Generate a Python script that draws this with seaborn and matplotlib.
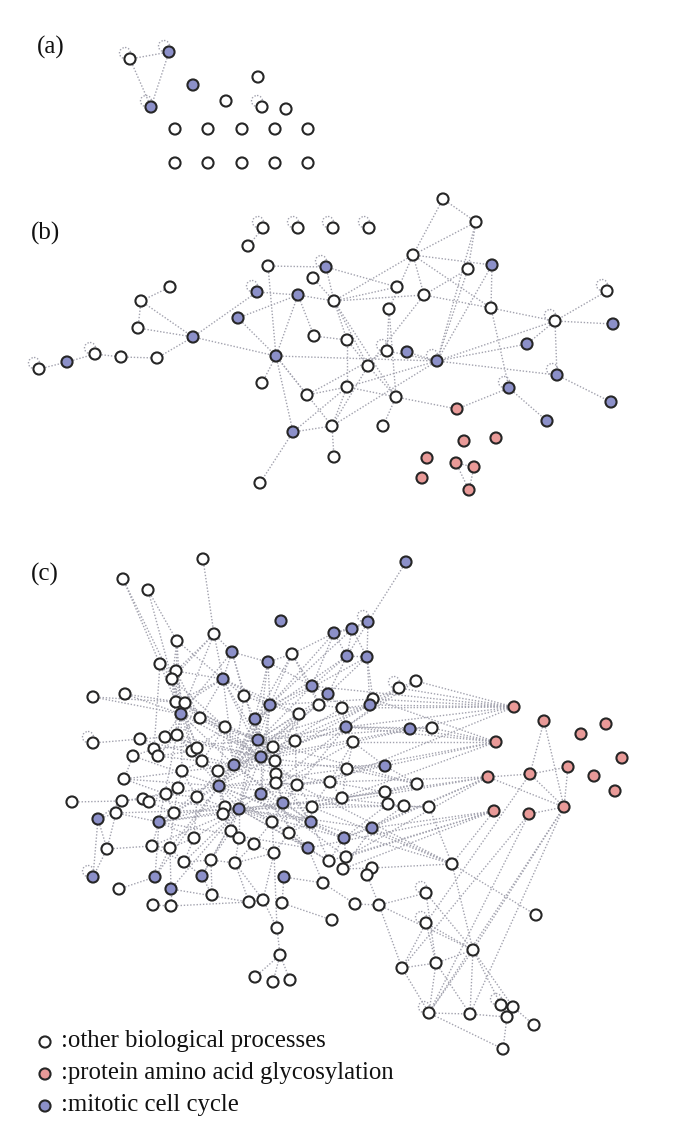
import matplotlib
matplotlib.use("Agg")
import matplotlib.pyplot as plt
import seaborn as sns
import pandas as pd
from matplotlib.collections import LineCollection
from matplotlib.patches import Circle

sns.set_theme(style="white")
plt.rcParams["font.family"] = ["Liberation Serif", "DejaVu Serif"]

# ---------------- data ----------------
# category codes: w = other biological processes, r = glycosylation, b = mitotic cell cycle
categories = ["w", "r", "b"]
legend_labels = [":other biological processes",
                 ":protein amino acid glycosylation",
                 ":mitotic cell cycle"]
panel_labels = ["(a)", "(b)", "(c)"]

# panel (a)
a_x = [130, 169, 193, 151, 258, 226, 262, 286,
       175, 208, 242, 275, 308, 175, 208, 242, 275, 308]
a_y = [59, 52, 85, 107, 77, 101, 107, 109,
       129, 129, 129, 129, 129, 163, 163, 163, 163, 163]
a_cat = ["w", "b", "b", "b", "w", "w", "w", "w",
         "w", "w", "w", "w", "w", "w", "w", "w", "w", "w"]
a_edges = [(0, 1), (0, 3), (1, 3)]
a_loops = [0, 1, 3, 6]

# panel (b)
b_x = [263, 298, 333, 369, 248, 268, 326, 313, 170, 141,
       257, 298, 334, 238, 138, 193, 314, 276, 39, 67,
       95, 121, 157, 262, 307, 293, 332, 334, 260, 443,
       476, 413, 468, 492, 397, 424, 389, 491, 607, 555,
       613, 527, 347, 387, 407, 437, 368, 557, 347, 396,
       509, 457, 547, 611, 383, 464, 496, 427, 456, 474,
       422, 469]
b_y = [228, 228, 228, 228, 246, 266, 267, 278, 287, 301,
       292, 295, 301, 318, 328, 337, 336, 356, 369, 362,
       354, 357, 358, 383, 395, 432, 426, 457, 483, 199,
       222, 255, 269, 265, 287, 295, 309, 308, 291, 321,
       324, 344, 340, 351, 352, 361, 366, 375, 387, 397,
       388, 409, 421, 402, 426, 441, 438, 458, 463, 467,
       478, 490]
b_cat = ["w", "w", "w", "w", "w", "w", "b", "w", "w", "w",
         "b", "b", "w", "b", "w", "b", "w", "b", "w", "b",
         "w", "w", "w", "w", "w", "b", "w", "w", "w", "w",
         "w", "w", "w", "b", "w", "w", "w", "w", "w", "w",
         "b", "b", "w", "w", "b", "b", "w", "b", "w", "w",
         "b", "r", "b", "b", "w", "r", "r", "r", "r", "r",
         "r", "r"]
b_edges = [(18, 19), (19, 20), (20, 21), (21, 22), (22, 15), (8, 9), (9, 14), (14, 15),
           (9, 15), (15, 10), (15, 17), (0, 4), (5, 6), (5, 17), (10, 11), (13, 11),
           (13, 17), (11, 12), (11, 17), (11, 16), (6, 12), (7, 12), (17, 23), (17, 24),
           (17, 25), (17, 45), (17, 26), (25, 26), (25, 28), (25, 48), (26, 27), (24, 43),
           (24, 48), (29, 30), (29, 31), (30, 31), (30, 32), (30, 45), (31, 12), (31, 33),
           (31, 35), (31, 37), (31, 36), (6, 34), (32, 35), (32, 45), (33, 37), (33, 45),
           (12, 35), (12, 42), (12, 49), (12, 46), (35, 37), (35, 46), (36, 43), (36, 49),
           (37, 39), (37, 50), (38, 39), (39, 40), (39, 47), (39, 45), (39, 41), (41, 45),
           (45, 47), (45, 26), (45, 48), (45, 44), (47, 53), (50, 52), (50, 51), (51, 49),
           (49, 48), (49, 54), (49, 46), (46, 42), (46, 26), (42, 48), (48, 26), (43, 45),
           (58, 59), (58, 61), (59, 61), (12, 34), (16, 42)]
b_loops = [0, 1, 2, 3, 6, 10, 18, 20, 38, 39, 43, 45, 47, 50]

# panel (c)
c_x = [203, 123, 148, 406, 281, 214, 177, 232, 268, 160,
       176, 172, 223, 334, 352, 368, 292, 347, 367, 416,
       399, 312, 328, 93, 125, 244, 176, 185, 270, 319,
       342, 373, 370, 181, 200, 255, 299, 225, 346, 410,
       432, 93, 140, 165, 177, 258, 295, 353, 273, 154,
       158, 133, 192, 197, 202, 261, 275, 234, 182, 218,
       276, 276, 297, 330, 347, 124, 219, 178, 166, 197,
       261, 342, 72, 122, 143, 149, 283, 225, 223, 239,
       312, 98, 116, 174, 159, 272, 311, 231, 239, 289,
       344, 194, 107, 152, 170, 254, 308, 274, 329, 346,
       184, 211, 235, 93, 155, 202, 171, 119, 212, 153,
       171, 249, 263, 277, 385, 417, 385, 388, 404, 429,
       372, 343, 372, 367, 452, 284, 323, 282, 355, 379,
       426, 332, 426, 536, 473, 402, 436, 429, 470, 501,
       513, 507, 534, 503, 280, 255, 273, 290,
       514, 544, 606, 581, 496, 622, 488, 530, 568, 594,
       615, 494, 529, 564]
c_y = [559, 579, 590, 562, 621, 634, 641, 652, 662, 664,
       671, 679, 679, 633, 629, 622, 654, 656, 657, 681,
       688, 686, 694, 697, 694, 696, 702, 703, 705, 705,
       708, 699, 705, 714, 718, 719, 714, 727, 727, 729,
       728, 743, 739, 737, 735, 740, 741, 742, 747, 749,
       756, 756, 751, 748, 761, 757, 761, 765, 771, 771,
       774, 783, 785, 782, 769, 779, 786, 788, 794, 797,
       794, 798, 802, 801, 799, 802, 803, 807, 814, 809,
       807, 819, 813, 813, 822, 822, 822, 831, 838, 833,
       838, 838, 849, 846, 848, 844, 848, 853, 861, 857,
       862, 860, 863, 877, 877, 876, 889, 889, 895, 905,
       906, 902, 900, 928, 766, 784, 792, 804, 806, 807,
       828, 869, 868, 875, 864, 877, 883, 903, 904, 905,
       893, 920, 923, 915, 950, 968, 963, 1013, 1014, 1005,
       1007, 1017, 1025, 1049, 955, 977, 982, 980,
       707, 721, 724, 734, 742, 758, 777, 774, 767, 776,
       791, 811, 814, 807]
c_cat = ["w", "w", "w", "b", "b", "w", "w", "b", "b", "w",
         "w", "w", "b", "b", "b", "b", "w", "b", "b", "w",
         "w", "b", "b", "w", "w", "w", "w", "w", "b", "w",
         "w", "w", "b", "b", "w", "b", "w", "w", "b", "b",
         "w", "w", "w", "w", "w", "b", "w", "w", "w", "w",
         "w", "w", "w", "w", "w", "b", "w", "b", "w", "w",
         "w", "w", "w", "w", "w", "w", "b", "w", "w", "w",
         "b", "w", "w", "w", "w", "w", "b", "w", "w", "b",
         "w", "b", "w", "w", "b", "w", "b", "w", "w", "w",
         "b", "w", "w", "w", "w", "w", "b", "w", "w", "w",
         "w", "w", "w", "b", "b", "b", "b", "w", "w", "w",
         "w", "w", "w", "w", "b", "w", "w", "w", "w", "w",
         "b", "w", "w", "w", "w", "b", "w", "w", "w", "w",
         "w", "w", "w", "w", "w", "w", "w", "w", "w", "w",
         "w", "w", "w", "w", "w", "w", "w", "w",
         "r", "r", "r", "r", "r", "r", "r", "r", "r", "r",
         "r", "r", "r", "r"]
c_edges = [
    (0, 5), (1, 9), (1, 11), (2, 6), (2, 11), (3, 15),
    (5, 7), (5, 10), (5, 11), (5, 12), (6, 11), (6, 12), (6, 26),
    (7, 8), (7, 12), (7, 25), (8, 16), (8, 28), (8, 21),
    (9, 11), (10, 11), (11, 26), (11, 33),
    (12, 25), (12, 27), (12, 26), (12, 28),
    (13, 14), (13, 15), (13, 17), (13, 21), (14, 15), (14, 17), (14, 18), (15, 18), (15, 17),
    (16, 21), (16, 29), (16, 13),
    (17, 18), (17, 22), (17, 21), (18, 31), (18, 32), (18, 22),
    (19, 20), (20, 31), (20, 32),
    (21, 22), (21, 29), (21, 28), (22, 29), (22, 30),
    (23, 26), (24, 27),
    (25, 28), (25, 35), (27, 33), (26, 27), (27, 34),
    (28, 35), (28, 36), (28, 45), (28, 55),
    (29, 30), (29, 36), (30, 32), (30, 38), (31, 32),
    (33, 34), (33, 44), (34, 37), (34, 12),
    (35, 45), (35, 55), (36, 46), (37, 57), (37, 45),
    (38, 47), (38, 39), (39, 40),
    (41, 42), (42, 43), (42, 49), (43, 44), (44, 50), (44, 54),
    (45, 48), (45, 56), (46, 62), (47, 64), (47, 63),
    (48, 56), (49, 50), (49, 51), (50, 52), (51, 65), (52, 53), (53, 54), (54, 58), (54, 59),
    (55, 56), (55, 70), (56, 60), (57, 59), (57, 66), (58, 67), (59, 66),
    (60, 61), (61, 62), (62, 63), (63, 64), (64, 71), (63, 71),
    (72, 73), (65, 68), (66, 79), (67, 68), (68, 69), (69, 77), (70, 76), (70, 79), (71, 80),
    (73, 74), (74, 75), (75, 83), (73, 81), (81, 82), (82, 84), (83, 84), (84, 93), (84, 91),
    (76, 85), (76, 86), (77, 78), (78, 87), (79, 87), (80, 86), (85, 89), (86, 89), (86, 90),
    (87, 88), (88, 95),
    (89, 96), (90, 99), (90, 98), (91, 100), (92, 103), (92, 93), (93, 94), (94, 100),
    (95, 97), (96, 98), (97, 102), (99, 121),
    (100, 101), (101, 102), (101, 105), (103, 81), (104, 84), (105, 108), (106, 110),
    (106, 111), (106, 94), (109, 110), (107, 104), (110, 111),
    (111, 112), (112, 113), (113, 144), (144, 145), (144, 146), (144, 147), (113, 97),
    (114, 115), (114, 64), (114, 47), (115, 116), (116, 117), (117, 118), (118, 119), (119, 124),
    (120, 90), (120, 121), (120, 124), (121, 122), (122, 123), (122, 124), (123, 129),
    (124, 133), (124, 134),
    (125, 126), (126, 96), (125, 127), (126, 128), (127, 131), (128, 129), (129, 130),
    (129, 135), (129, 134), (130, 136), (130, 134),
    (132, 134), (132, 136), (132, 135), (135, 136), (135, 137), (136, 134), (134, 137),
    (134, 138), (134, 139), (134, 140),
    (136, 137), (136, 138), (137, 138), (137, 143), (138, 141), (139, 140), (140, 142),
    (141, 143),
    (137, 161), (137, 160), (138, 161), (134, 161), (132, 155), (135, 160),
    (149, 155), (149, 161), (154, 155), (154, 161), (155, 156), (155, 161), (156, 161),
    (160, 161),
    (148, 30), (148, 32), (148, 38), (148, 47), (148, 63), (148, 19), (148, 20), (148, 31),
    (148, 21),
    (152, 40), (152, 47), (152, 64), (152, 62), (152, 31), (152, 38), (152, 39), (152, 71),
    (154, 71), (154, 90), (154, 80), (154, 99), (154, 63), (154, 120),
    (159, 98), (159, 120), (159, 96), (159, 99), (159, 121), (159, 124),
    (10, 33), (10, 34), (11, 37), (26, 34), (27, 37), (33, 43), (34, 44), (37, 53), (37, 54),
    (44, 53), (45, 57), (35, 57), (55, 57), (56, 62), (56, 61), (60, 70), (60, 76), (61, 76),
    (62, 80), (63, 80), (45, 36), (36, 56), (46, 55),
    (58, 69), (59, 69), (59, 77), (66, 77), (66, 78), (67, 83), (68, 83), (69, 91), (67, 74),
    (68, 75), (77, 87), (79, 85), (79, 88), (70, 85), (85, 95), (85, 97), (89, 97), (86, 98),
    (80, 89), (87, 101), (88, 102), (91, 94), (93, 100), (83, 94), (82, 92), (81, 92),
    (76, 89), (85, 96), (95, 102), (94, 104), (100, 105), (101, 108), (102, 111), (97, 112),
    (102, 112),
    (9, 49), (11, 54), (10, 52), (11, 44),
    (115, 64), (115, 71), (116, 71), (117, 90), (118, 120), (124, 62), (124, 86), (124, 80),
    # dense core
    (33, 45), (33, 57), (33, 55), (33, 66), (33, 84), (33, 52), (33, 58), (12, 45), (12, 57),
    (12, 55), (12, 36), (28, 57), (28, 66), (28, 70), (35, 66), (35, 79), (35, 76), (45, 79),
    (45, 66), (45, 86), (55, 79), (55, 84), (55, 86), (57, 84), (57, 76), (57, 86), (66, 84),
    (66, 86), (66, 96), (70, 84), (70, 96), (76, 79), (79, 84), (79, 86), (38, 45), (38, 55),
    (38, 57), (38, 70), (38, 76), (22, 45), (22, 55), (21, 57), (32, 45), (32, 57), (32, 66),
    (29, 57), (30, 55), (36, 55), (36, 66), (47, 57), (47, 70), (64, 55), (64, 66), (71, 79),
    (71, 84), (63, 66), (90, 79), (90, 66), (96, 79), (96, 84), (98, 79), (99, 70), (44, 55),
    (44, 66), (50, 57), (49, 45), (43, 55), (42, 57), (51, 66), (65, 66), (65, 57), (73, 66),
    (74, 79), (82, 79), (83, 79), (91, 79), (93, 79), (94, 66), (100, 79), (101, 79),
    (105, 79), (104, 66), (106, 79), (26, 45), (27, 55), (25, 57), (34, 55), (37, 55),
    (37, 66), (24, 33), (23, 33), (9, 33), (10, 12), (6, 33), (5, 33), (16, 28), (16, 35),
    (8, 35), (8, 45), (7, 45), (7, 33), (13, 28), (14, 28), (17, 35), (18, 35), (31, 28),
    (19, 38), (20, 38), (40, 38), (39, 45), (39, 55), (114, 57), (115, 45), (116, 57),
    (117, 66), (118, 79), (119, 76), (120, 79),
]
c_loops = [15, 20, 41, 103, 130, 132, 137, 139]

# ---------------- styles ----------------
palette = {"w": "#ffffff", "r": "#e99a98", "b": "#8c90c9"}
edge_color = "#a2a2ae"
node_edge = "#262626"

fig = plt.figure(figsize=(6.85, 11.35), dpi=100)
ax = fig.add_axes([0, 0, 1, 1])

panels = [
    (a_x, a_y, a_cat, a_edges, a_loops),
    (b_x, b_y, b_cat, b_edges, b_loops),
    (c_x, c_y, c_cat, c_edges, c_loops),
]

frames = []
for pi, (xs, ys, cs, es, ls) in enumerate(panels):
    assert len(xs) == len(ys) == len(cs), (pi, len(xs), len(ys), len(cs))
    df = pd.DataFrame({"x": xs, "y": ys, "cat": cs, "panel": pi})
    frames.append(df)
    segs = [[(xs[i], ys[i]), (xs[j], ys[j])] for i, j in es]
    lc = LineCollection(segs, colors=edge_color, linewidths=1.0,
                        linestyles=(0, (1.0, 1.3)), zorder=1)
    ax.add_collection(lc)
    for k in ls:
        ax.add_patch(Circle((xs[k] - 5, ys[k] - 6), 5.5, fill=False,
                            edgecolor=edge_color, linewidth=1.0,
                            linestyle=(0, (1.0, 1.3)), zorder=1))

nodes = pd.concat(frames, ignore_index=True)
sns.scatterplot(data=nodes, x="x", y="y", hue="cat", palette=palette,
                hue_order=categories, s=64, edgecolor=node_edge, linewidth=1.5,
                legend=False, ax=ax, zorder=3)

# panel labels
label_pos = [(37, 47), (31, 233), (31, 574)]
for lab, (lx, ly) in zip(panel_labels, label_pos):
    ax.text(lx, ly, lab, fontsize=18, ha="left", va="center", color="#111111")

# legend
leg = pd.DataFrame({"x": [45, 45, 45], "y": [1042, 1074, 1106], "cat": categories})
sns.scatterplot(data=leg, x="x", y="y", hue="cat", palette=palette, hue_order=categories,
                s=64, edgecolor=node_edge, linewidth=1.5, legend=False, ax=ax, zorder=3)
for (_, r), txt in zip(leg.iterrows(), legend_labels):
    ax.text(r["x"] + 16, r["y"] - 1, txt, fontsize=17.8, ha="left", va="center",
            color="#111111")

ax.set_xlim(0, 685)
ax.set_ylim(1135, 0)
ax.axis("off")
fig.savefig("out.png", dpi=100, facecolor="white")
